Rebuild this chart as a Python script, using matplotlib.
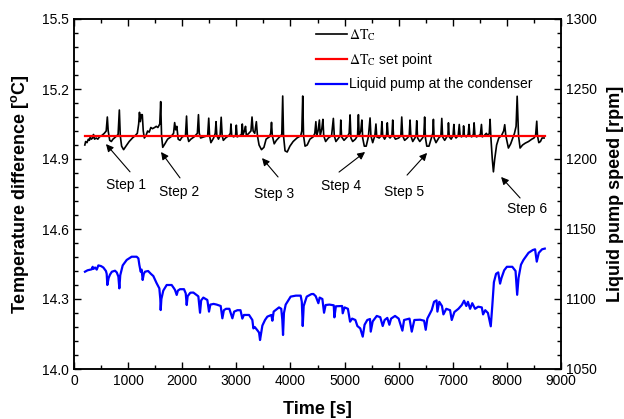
import matplotlib
matplotlib.use("Agg")
import matplotlib.pyplot as plt
from matplotlib.ticker import MultipleLocator, AutoMinorLocator, FixedLocator, FormatStrFormatter
from matplotlib.font_manager import FontProperties

plt.rcParams['font.family'] = ['Liberation Sans', 'DejaVu Sans']
plt.rcParams['mathtext.fontset'] = 'custom'
plt.rcParams['mathtext.rm'] = 'Liberation Sans'
plt.rcParams['mathtext.bf'] = 'Liberation Sans:bold'
plt.rcParams['mathtext.it'] = 'Liberation Sans:italic'

# ---------------- data ----------------
# Temperature difference at condenser (deg C)
dT_time = [200, 215, 240, 265, 285, 300, 320, 345, 360, 380, 410, 440, 470, 510, 560, 595,
           616, 632, 660, 690, 720, 770, 815, 838, 855, 880, 917, 960, 1020, 1080, 1130, 1170,
           1195, 1210, 1225, 1245, 1262, 1280, 1300, 1330, 1360, 1390, 1420, 1450, 1490, 1520,
           1550, 1585, 1602, 1618, 1640, 1680, 1730, 1790, 1840, 1860, 1880, 1900, 1925, 1960,
           2000, 2060, 2080, 2095, 2120, 2160, 2220, 2280, 2300, 2315, 2340, 2400, 2470, 2490,
           2505, 2530, 2580, 2610, 2625, 2640, 2670, 2700, 2720, 2738, 2760, 2800, 2860, 2890,
           2900, 2915, 2950, 2985, 3000, 3015, 3060, 3095, 3110, 3125, 3150, 3170, 3185, 3230,
           3270, 3290, 3310, 3340, 3370, 3390, 3420, 3465, 3510, 3550, 3610, 3635, 3650, 3665,
           3700, 3740, 3800, 3840, 3857, 3872, 3900, 3940, 3990, 4050, 4120, 4190, 4210, 4227,
           4242, 4270, 4310, 4360, 4420, 4450, 4470, 4485, 4510, 4535, 4550, 4580, 4600, 4615,
           4650, 4700, 4760, 4793, 4810, 4840, 4890, 4920, 4930, 4945, 4990, 5050, 5085, 5102,
           5118, 5150, 5200, 5240, 5256, 5270, 5300, 5320, 5335, 5365, 5400, 5440, 5471, 5487,
           5520, 5560, 5580, 5595, 5640, 5675, 5690, 5705, 5740, 5775, 5790, 5805, 5840, 5875,
           5890, 5905, 5940, 6000, 6040, 6057, 6073, 6110, 6160, 6195, 6210, 6225, 6260, 6300,
           6320, 6334, 6350, 6390, 6440, 6465, 6480, 6495, 6520, 6560, 6610, 6630, 6642, 6655,
           6690, 6740, 6780, 6797, 6812, 6850, 6890, 6910, 6920, 6935, 6970, 7005, 7020, 7035,
           7060, 7100, 7120, 7135, 7160, 7190, 7200, 7215, 7250, 7285, 7300, 7315, 7350, 7380,
           7394, 7410, 7440, 7480, 7510, 7530, 7545, 7580, 7620, 7650, 7675, 7689, 7705, 7730,
           7751, 7775, 7810, 7850, 7900, 7940, 7960, 7980, 8028, 8070, 8110, 8140, 8170, 8190,
           8215, 8244, 8290, 8340, 8400, 8460, 8500, 8530, 8552, 8565, 8590, 8620, 8650, 8688]
dT_value = [14.960, 14.975, 14.970, 14.985, 14.980, 14.995, 14.985, 14.990, 15.005, 14.985,
            14.990, 14.985, 14.995, 15.000, 15.010, 15.020, 15.080, 15.020, 14.980, 14.975,
            14.985, 14.995, 15.005, 15.110, 15.000, 14.955, 14.940, 14.955, 14.975, 14.990,
            15.000, 15.010, 15.050, 15.100, 15.060, 15.090, 15.090, 15.020, 14.990, 15.000,
            15.020, 15.015, 15.035, 15.030, 15.035, 15.040, 15.035, 15.050, 15.146, 15.000,
            14.950, 14.965, 14.985, 14.995, 15.010, 15.056, 15.025, 15.040, 14.985, 14.980,
            14.995, 15.000, 15.084, 15.000, 14.975, 14.985, 14.995, 15.010, 15.090, 15.010,
            14.990, 14.995, 15.000, 15.075, 15.000, 14.970, 14.990, 15.010, 15.060, 15.000,
            14.985, 15.000, 15.079, 15.000, 14.980, 14.990, 15.000, 15.010, 15.050, 15.000,
            14.995, 15.000, 15.045, 14.995, 15.000, 15.005, 15.050, 15.005, 15.020, 15.040,
            15.000, 15.010, 15.020, 15.080, 15.020, 15.010, 15.060, 15.000, 14.960, 14.940,
            14.950, 14.985, 14.995, 15.010, 15.057, 15.000, 14.965, 14.980, 14.995, 15.005,
            15.170, 15.000, 14.935, 14.930, 14.955, 14.975, 14.990, 15.000, 15.020, 15.170,
            15.000, 14.955, 14.960, 14.985, 14.995, 15.010, 15.060, 15.000, 15.020, 15.067,
            15.000, 15.030, 15.070, 15.000, 14.975, 14.990, 15.000, 15.074, 15.000, 14.975,
            14.990, 15.000, 15.067, 14.995, 14.980, 14.995, 15.010, 15.089, 14.990, 14.975,
            14.985, 15.000, 15.090, 15.000, 15.020, 15.067, 14.990, 14.955, 14.955, 14.995,
            15.076, 15.000, 14.970, 15.000, 15.050, 14.995, 14.990, 15.000, 15.060, 15.000,
            14.985, 15.000, 15.055, 15.000, 14.990, 15.000, 15.067, 15.000, 14.985, 14.990,
            15.000, 15.080, 15.000, 14.980, 14.990, 15.000, 15.067, 15.000, 14.975, 14.990,
            15.000, 15.064, 14.990, 14.975, 14.990, 15.000, 15.080, 14.990, 14.955, 14.955,
            14.995, 15.010, 15.070, 14.990, 14.970, 14.990, 15.000, 15.074, 14.995, 14.980,
            14.995, 15.000, 15.055, 14.995, 14.985, 15.000, 15.048, 15.000, 14.990, 15.000,
            15.048, 15.000, 14.995, 15.000, 15.042, 15.000, 14.995, 15.005, 15.048, 15.000,
            14.995, 15.005, 15.055, 15.000, 14.995, 15.000, 15.005, 15.048, 14.995, 15.000,
            15.010, 15.000, 15.010, 15.070, 14.990, 14.900, 14.845, 14.900, 14.960, 14.990,
            15.000, 15.020, 15.047, 15.000, 14.947, 14.965, 14.990, 15.010, 15.040, 15.169,
            15.000, 14.947, 14.960, 14.968, 14.975, 14.985, 14.990, 15.000, 15.062, 15.000,
            14.970, 14.975, 14.990, 14.990]

setpoint_time = [200, 8700]
setpoint_value = [15.0, 15.0]

# Liquid pump speed at condenser (rpm)
pump_time = [203, 250, 300, 327, 345, 360, 390, 420, 450, 500, 542, 590, 604, 616, 640, 665,
             700, 758, 790, 820, 838, 855, 900, 974, 1066, 1158, 1190, 1208, 1232, 1250, 1269,
             1290, 1312, 1370, 1420, 1466, 1528, 1577, 1595, 1602, 1615, 1650, 1713, 1805, 1850,
             1867, 1898, 1920, 1959, 2033, 2065, 2083, 2100, 2150, 2206, 2298, 2329, 2350, 2390,
             2464, 2495, 2520, 2580, 2637, 2711, 2742, 2770, 2810, 2871, 2927, 2960, 3020, 3077,
             3111, 3140, 3235, 3296, 3315, 3340, 3390, 3420, 3438, 3460, 3481, 3530, 3573, 3647,
             3666, 3690, 3789, 3830, 3850, 3863, 3880, 3912, 4004, 4100, 4189, 4210, 4227, 4245,
             4301, 4387, 4424, 4467, 4516, 4540, 4590, 4621, 4650, 4720, 4800, 4812, 4840, 4955,
             4966, 5000, 5062, 5102, 5140, 5200, 5237, 5290, 5336, 5370, 5420, 5470, 5484, 5520,
             5595, 5660, 5705, 5740, 5790, 5828, 5860, 5933, 6000, 6069, 6100, 6200, 6242, 6290,
             6396, 6470, 6500, 6530, 6611, 6654, 6700, 6716, 6750, 6800, 6827, 6880, 6950, 6981,
             7030, 7104, 7166, 7209, 7250, 7280, 7320, 7360, 7412, 7470, 7536, 7560, 7600, 7650,
             7702, 7730, 7760, 7800, 7840, 7874, 7900, 7950, 8000, 8100, 8160, 8190, 8215, 8260,
             8306, 8400, 8480, 8521, 8552, 8590, 8650, 8700]
pump_value = [1119.5, 1120.5, 1121.0, 1121.2, 1123.0, 1121.5, 1122.5, 1121.0, 1124.0, 1123.5,
              1122.5, 1120.0, 1118.0, 1110.0, 1115.0, 1117.4, 1119.5, 1120.2, 1119.0, 1116.0,
              1107.6, 1117.0, 1124.0, 1127.9, 1130.2, 1130.2, 1129.0, 1124.3, 1119.5, 1121.0,
              1113.6, 1118.0, 1119.5, 1120.0, 1118.0, 1116.4, 1111.2, 1107.6, 1100.0, 1092.1,
              1100.0, 1106.0, 1110.0, 1110.0, 1107.5, 1106.4, 1102.9, 1106.0, 1107.0, 1107.0,
              1104.0, 1095.7, 1102.0, 1104.5, 1104.6, 1101.9, 1090.2, 1099.0, 1101.0, 1099.3,
              1091.0, 1096.0, 1096.5, 1096.0, 1095.0, 1086.2, 1092.0, 1093.0, 1093.0, 1086.2,
              1091.0, 1092.0, 1092.0, 1086.0, 1088.6, 1088.6, 1085.0, 1079.0, 1080.0, 1077.6,
              1076.0, 1070.7, 1076.0, 1081.0, 1085.0, 1087.4, 1088.6, 1084.5, 1091.0, 1094.0,
              1093.0, 1085.0, 1074.3, 1090.0, 1096.0, 1101.7, 1102.4, 1102.4, 1098.0, 1080.7,
              1095.0, 1101.7, 1103.5, 1103.6, 1102.0, 1097.0, 1101.0, 1100.0, 1090.2, 1095.7,
              1096.0, 1095.5, 1086.9, 1094.8, 1095.0, 1089.8, 1094.0, 1093.0, 1083.8, 1086.0,
              1085.0, 1080.7, 1079.0, 1073.1, 1081.6, 1085.0, 1085.7, 1076.7, 1084.0, 1087.9,
              1087.0, 1080.7, 1085.0, 1086.5, 1081.6, 1086.0, 1087.9, 1086.0, 1077.4, 1085.0,
              1086.0, 1076.7, 1085.0, 1085.2, 1084.5, 1078.0, 1086.0, 1092.1, 1098.0, 1099.0,
              1091.0, 1098.0, 1095.0, 1089.0, 1093.0, 1092.0, 1085.0, 1090.7, 1093.0, 1095.7,
              1098.8, 1095.0, 1098.0, 1093.0, 1097.0, 1093.0, 1094.5, 1094.0, 1089.0, 1092.0,
              1090.0, 1080.5, 1095.0, 1112.0, 1118.0, 1119.0, 1111.0, 1115.0, 1120.5, 1123.0,
              1123.0, 1120.0, 1103.0, 1115.0, 1124.5, 1127.9, 1133.0, 1135.0, 1135.5, 1126.7,
              1133.0, 1135.5, 1136.0]

left_ticks = [14.0, 14.3, 14.6, 14.9, 15.2, 15.5]
step_labels = ["Step 1", "Step 2", "Step 3", "Step 4", "Step 5", "Step 6"]

# ---------------- figure ----------------
fig = plt.figure(figsize=(6.24, 4.19), dpi=100)
ax = fig.add_axes([74/624, 50/419, 487/624, 350/419])
ax2 = ax.twinx()

l1, = ax.plot(dT_time, dT_value, color='black', lw=1.2, zorder=2)
l2, = ax.plot(setpoint_time, setpoint_value, color='red', lw=1.6, zorder=3)
l3, = ax2.plot(pump_time, pump_value, color='blue', lw=1.6)

ax.set_xlim(0, 9000)
ax.set_ylim(14.0, 15.5)
ax2.set_ylim(1050, 1300)

ax.xaxis.set_major_locator(MultipleLocator(1000))
ax.xaxis.set_minor_locator(MultipleLocator(500))
ax.yaxis.set_major_locator(FixedLocator(left_ticks))
ax.yaxis.set_minor_locator(AutoMinorLocator(5))
ax2.yaxis.set_major_locator(MultipleLocator(50))
ax2.yaxis.set_minor_locator(AutoMinorLocator(5))
ax.yaxis.set_major_formatter(FormatStrFormatter('%.1f'))

ax.tick_params(axis='both', which='both', direction='in', labelsize=10)
ax.tick_params(axis='x', which='both', top=True)
ax.tick_params(which='major', length=5, width=1)
ax.tick_params(which='minor', length=3, width=1)
ax2.tick_params(axis='y', which='both', direction='in', labelsize=10)
ax2.tick_params(which='major', length=5, width=1)
ax2.tick_params(which='minor', length=3, width=1)

for a in (ax, ax2):
    for s in a.spines.values():
        s.set_linewidth(1.1)

ax.set_xlabel('Time [s]', fontsize=13, fontweight='bold')
ax.set_ylabel(r'Temperature difference [$^{\mathbf{o}}$C]', fontsize=13, fontweight='bold')
ax2.set_ylabel('Liquid pump speed [rpm]', fontsize=13, fontweight='bold')
ax.xaxis.set_label_coords(0.5, -0.092)
ax.yaxis.set_label_coords(-0.088, 0.5)
ax2.yaxis.set_label_coords(1.094, 0.5)

# Step annotations (arrow tip, arrow tail, text centre) in data coordinates
tips = [(591, 14.964), (1608, 14.93), (3475, 14.904), (5379, 14.93), (6525, 14.926), (7893, 14.823)]
tails = [(1035, 14.845), (1959, 14.819), (3771, 14.823), (4898, 14.844), (6155, 14.831), (8244, 14.733)]
texts = [(961, 14.79), (1941, 14.76), (3697, 14.752), (4935, 14.785), (6100, 14.76), (8373, 14.686)]
for lab, tip, tail, tp in zip(step_labels, tips, tails, texts):
    ax.annotate('', xy=tip, xytext=tail,
                arrowprops=dict(arrowstyle='-|>', color='black', lw=0.8,
                                mutation_scale=11, shrinkA=0, shrinkB=0))
    ax.text(tp[0], tp[1], lab, fontsize=10, ha='center', va='center')

leg_prop = FontProperties(family='Liberation Sans', size=10, math_fontfamily='stix')
leg = ax2.legend([l1, l2, l3],
                 [r'$\Delta\mathrm{T}_{\mathrm{C}}$', r'$\Delta\mathrm{T}_{\mathrm{C}}$ set point',
                  'Liquid pump at the condenser'],
                 loc='upper left', bbox_to_anchor=((316 - 74) / 487, (369 - 27) / 350),
                 frameon=False, prop=leg_prop, handlelength=2.25, handletextpad=0.1,
                 labelspacing=0.6, borderpad=0, borderaxespad=0)

fig.savefig('out.png', dpi=100)
